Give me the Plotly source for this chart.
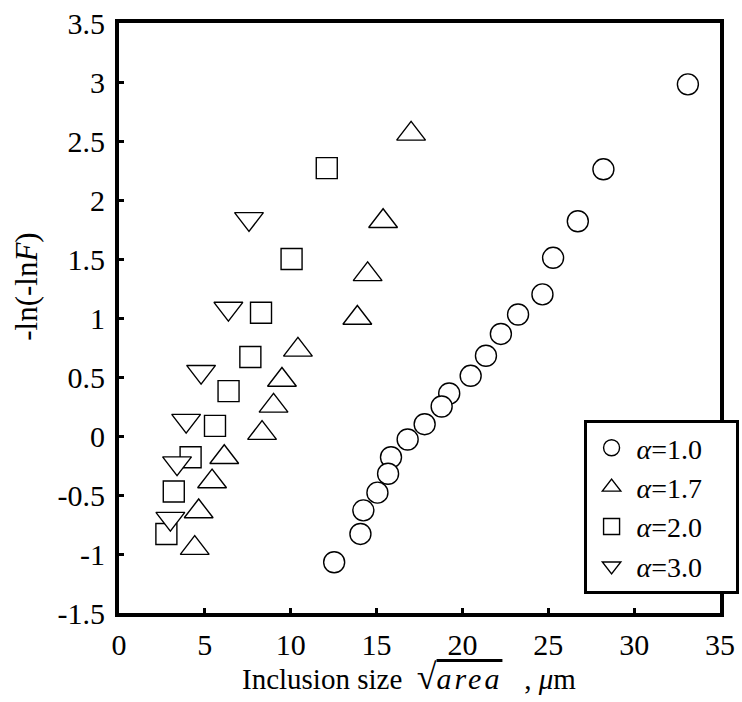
import plotly.graph_objects as go

# Inclusion size sqrt(area) [um] and reduced variate -ln(-lnF) for each alpha
x_a10 = [12.53, 14.06, 14.23, 15.05, 15.67, 15.84, 16.81, 17.80, 18.79, 19.23,
         20.48, 21.37, 22.24, 23.24, 24.66, 25.28, 26.72, 28.21, 33.13]
y_a10 = [-1.07, -0.83, -0.63, -0.48, -0.32, -0.18, -0.03, 0.10, 0.25, 0.36,
         0.51, 0.68, 0.865, 1.03, 1.20, 1.51, 1.82, 2.26, 2.98]

x_a17 = [4.41, 4.64, 5.42, 6.13, 8.33, 9.00, 9.49, 10.42, 13.88, 14.48, 15.38, 17.01]
y_a17 = [-0.95, -0.64, -0.386, -0.18, 0.024, 0.255, 0.475, 0.73, 1.00, 1.37, 1.82, 2.56]

x_a20 = [2.76, 3.19, 4.17, 5.59, 6.38, 7.65, 8.27, 10.05, 12.10]
y_a20 = [-0.83, -0.47, -0.18, 0.086, 0.38, 0.67, 1.045, 1.50, 2.27]

x_a30 = [2.99, 3.38, 3.91, 4.78, 6.37, 7.57]
y_a30 = [-0.70, -0.23, 0.13, 0.545, 1.08, 1.84]

series_names = ["<i>α</i>=1.0", "<i>α</i>=1.7", "<i>α</i>=2.0", "<i>α</i>=3.0"]

x_ticks = [0, 5, 10, 15, 20, 25, 30, 35]
x_ticktext = ["0", "5", "10", "15", "20", "25", "30", "35"]
y_ticks = [3.5, 3, 2.5, 2, 1.5, 1, 0.5, 0, -0.5, -1, -1.5]
y_ticktext = ["3.5", "3", "2.5", "2", "1.5", "1", "0.5", "0", "-0.5", "-1", "-1.5"]

FONT = "Liberation Serif"
PAD = "\u00a0" * 4  # widens the legend box past the text

series = [
    (x_a10, y_a10, "circle", 21),
    (x_a17, y_a17, "triangle-up", 25),
    (x_a20, y_a20, "square", 21),
    (x_a30, y_a30, "triangle-down", 25),
]

fig = go.Figure()
for (xs, ys, sym, size), name in zip(series, series_names):
    fig.add_trace(go.Scatter(
        x=xs[::-1], y=ys[::-1], mode="markers", name=name + PAD,
        marker=dict(symbol=sym, size=size, color="white",
                    line=dict(color="black", width=1.4)),
    ))

axis_common = dict(
    showline=True, linecolor="black", linewidth=4, mirror=True,
    ticks="inside", ticklen=5, tickwidth=3, tickcolor="black",
    showgrid=False, zeroline=False,
    tickfont=dict(family=FONT, size=30, color="black"),
)

fig.update_xaxes(
    range=[0, 35], tickvals=x_ticks, ticktext=x_ticktext,
    ticklabelstandoff=2,
    **axis_common,
)
fig.update_yaxes(
    range=[-1.5, 3.5], tickvals=y_ticks, ticktext=y_ticktext,
    ticklabelstandoff=4,
    **axis_common,
)

x_title = ('Inclusion size\u00a0\u00a0<span style="font-size:36px">√</span>'
           '<span style="font-size:30px;text-decoration:overline;letter-spacing:3px">'
           '<i>area</i></span>\u00a0\u00a0\u00a0,\u00a0<i>μ</i>m')

fig.add_annotation(
    text=x_title, xref="paper", yref="paper", x=0.4826, y=-0.108,
    xanchor="center", yanchor="middle", showarrow=False,
    font=dict(family=FONT, size=29, color="black"),
)
fig.add_annotation(
    text="-ln(-ln<i>F</i>)", textangle=-90,
    xref="paper", yref="paper", x=-0.153, y=0.553,
    xanchor="center", yanchor="middle", showarrow=False,
    font=dict(family=FONT, size=31, color="black"),
)

fig.update_layout(
    width=742, height=702,
    margin=dict(l=119, r=22, t=23, b=89, autoexpand=False),
    paper_bgcolor="white", plot_bgcolor="white",
    font=dict(family=FONT, color="black"),
    showlegend=True,
    legend=dict(
        x=0.773, y=0.327, xanchor="left", yanchor="top",
        bgcolor="white", bordercolor="black", borderwidth=3,
        font=dict(family=FONT, size=28, color="black"),
        itemwidth=40,
    ),
)

fig.write_html("out.html")
